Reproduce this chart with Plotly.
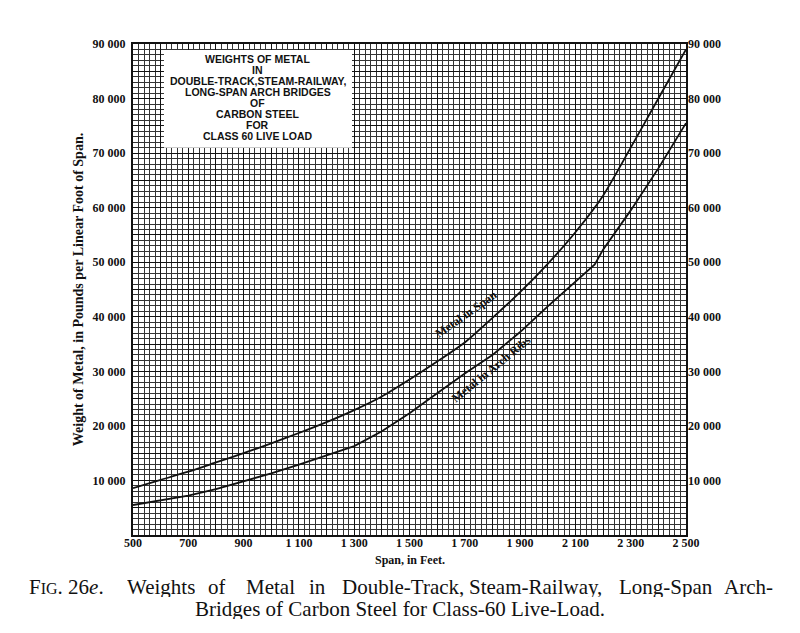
import plotly.graph_objects as go

# Span in feet
span = [500, 600, 700, 800, 900, 1000, 1100, 1200, 1300, 1400, 1500,
        1600, 1700, 1800, 1900, 2000, 2100, 2200, 2300, 2400, 2500]

# Metal in span (lb per linear foot)
metal_span = [8600, 10100, 11600, 13300, 15000, 16800, 18700, 20700, 22900, 25400, 28500,
              31800, 35300, 39800, 44500, 49700, 55500, 62200, 71000, 80000, 89000]

# Metal in arch ribs, with the break near 2170 ft
span_ribs = [500, 600, 700, 800, 900, 1000, 1100, 1200, 1300, 1400, 1500,
             1600, 1700, 1800, 1900, 2000, 2100, 2170, 2200, 2300, 2400, 2500]
metal_ribs = [5500, 6300, 7200, 8400, 9800, 11300, 12900, 14600, 16300, 19000, 22300,
              26000, 29600, 33000, 37200, 41900, 46500, 49600, 52300, 59500, 67200, 75500]

x_ticks = list(range(500, 2501, 100))
x_labels = [('{:,}'.format(v).replace(',', ' ') if (v - 500) % 200 == 0 else '') for v in x_ticks]
y_ticks = list(range(0, 90001, 5000))
y_labels = [('{:,}'.format(v).replace(',', ' ') if v % 10000 == 0 and v > 0 else '') for v in y_ticks]

box_lines = ['WEIGHTS OF METAL', 'IN', 'DOUBLE-TRACK,STEAM-RAILWAY,', 'LONG-SPAN ARCH BRIDGES',
             'OF', 'CARBON STEEL', 'FOR', 'CLASS 60 LIVE LOAD']

# caption, first line is justified word by word
caption_words = ['F<span style="font-size:16px">IG</span>. 26<i>e</i>.', 'Weights', 'of', 'Metal', 'in',
                 'Double-Track,', 'Steam-Railway,', 'Long-Span', 'Arch-']
caption_2 = 'Bridges of Carbon Steel for Class-60 Live-Load.'

serif = 'Liberation Serif'
ink = '#111111'

# paper coords from page pixels, relative to the plot area
def px(x):
    return (x - 133) / 553

def py(y):
    return (533 - y) / 491

fig = go.Figure()

fig.add_trace(go.Scatter(x=span, y=metal_span, mode='lines', name='Metal in Span',
                         line=dict(color=ink, width=1.8, shape='spline', smoothing=0.6)))
fig.add_trace(go.Scatter(x=span_ribs, y=metal_ribs, mode='lines', name='Metal in Arch Ribs',
                         line=dict(color=ink, width=1.8)))
# invisible trace to carry the right-hand axis
fig.add_trace(go.Scatter(x=[span[0]], y=[metal_span[0]], yaxis='y2', mode='markers',
                         marker=dict(opacity=0), showlegend=False, hoverinfo='skip'))

# white panel for the title
fig.add_shape(type='rect', x0=612, x1=1292, y0=71000, y1=88900,
              fillcolor='white', line=dict(width=0), layer='above')
for i, line in enumerate(box_lines):
    fig.add_annotation(x=952, y=87200 - i * 2000, text=line, showarrow=False,
                       font=dict(family='Liberation Sans', size=10.5, color=ink, weight='bold'))

fig.add_annotation(x=1705, y=40500, text='<b>Metal in Span</b>', showarrow=False, textangle=-35,
                   font=dict(family=serif, size=12, color=ink))
fig.add_annotation(x=1795, y=30500, text='<b>Metal in Arch Ribs</b>', showarrow=False, textangle=-39,
                   font=dict(family=serif, size=12, color=ink))

fig.add_annotation(x=px(410), y=py(558), xref='paper', yref='paper', text='<b>Span, in Feet.</b>',
                   xanchor='center', yanchor='middle', showarrow=False,
                   font=dict(family=serif, size=12, color=ink))

word_centres = [66, 161, 217, 270, 317, 403, 535, 666, 748]
for word, xc in zip(caption_words, word_centres):
    fig.add_annotation(x=px(xc), y=py(584), xref='paper', yref='paper', text=word,
                       xanchor='center', yanchor='middle', showarrow=False, height=21, borderpad=0,
                       font=dict(family=serif, size=21, color=ink))
fig.add_annotation(x=px(400), y=py(606), xref='paper', yref='paper', text=caption_2,
                   xanchor='center', yanchor='middle', showarrow=False, height=21, borderpad=0,
                   font=dict(family=serif, size=21, color=ink))

tick_font = dict(family=serif, size=12, color=ink, weight='bold')

fig.update_layout(
    width=800, height=633,
    margin=dict(l=125, r=122, t=36, b=106),
    paper_bgcolor='white', plot_bgcolor='white',
    showlegend=False,
    font=dict(family=serif, color=ink),
    xaxis=dict(range=[500, 2500], tickmode='array', tickvals=x_ticks, ticktext=x_labels,
               showgrid=True, gridcolor=ink, gridwidth=1.4, zeroline=False,
               minor=dict(tick0=500, dtick=20, showgrid=True, gridcolor='#333333', gridwidth=0.9),
               showline=True, linecolor=ink, linewidth=2, mirror=True,
               tickfont=tick_font, ticks='', ticklabelstandoff=-4),
    yaxis=dict(range=[0, 90000], tickmode='array', tickvals=y_ticks, ticktext=y_labels,
               showgrid=True, gridcolor=ink, gridwidth=1.4, zeroline=False,
               minor=dict(tick0=0, dtick=1000, showgrid=True, gridcolor='#333333', gridwidth=0.9),
               showline=True, linecolor=ink, linewidth=2, mirror=True,
               tickfont=tick_font, ticks='', ticklabelstandoff=3,
               title=dict(text='<b>Weight of Metal, in Pounds per Linear Foot of Span.</b>',
                          font=dict(family=serif, size=14, color=ink), standoff=6)),
    yaxis2=dict(range=[0, 90000], overlaying='y', side='right', tickmode='array',
                tickvals=y_ticks[2:], ticktext=y_labels[2:], showgrid=False, zeroline=False,
                tickfont=tick_font, ticks='', ticklabelstandoff=1),
)

fig.write_html('out.html')
